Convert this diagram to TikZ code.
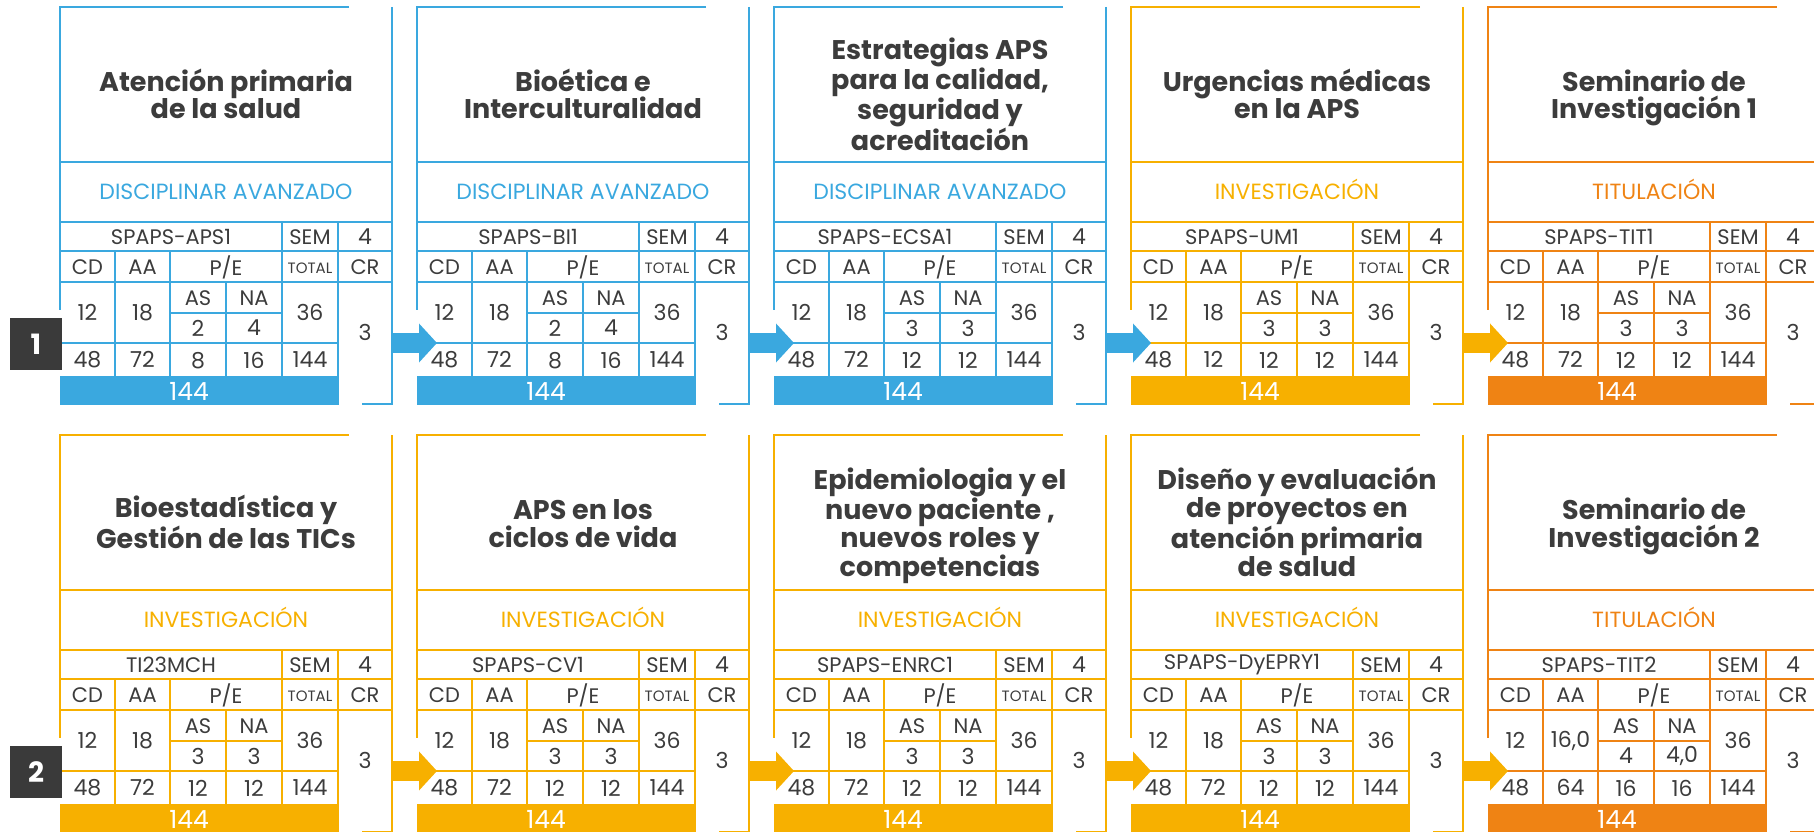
\documentclass[tikz,border=0pt]{standalone}
\usepackage{fontspec}
\setmainfont{Poppins}
\usetikzlibrary{arrows.meta}
\definecolor{azul}{HTML}{3AA8DF}
\definecolor{amarillo}{HTML}{F7B000}
\definecolor{naranja}{HTML}{EF8314}
\definecolor{texto}{HTML}{3C3C3C}
\definecolor{gris}{HTML}{3A3A3A}

% horas: AA/AS/NA/AA total/AS total/NA total
\def\horas#1/#2/#3/#4/#5/#6\relax{\def\hAA{#1}\def\hAS{#2}\def\hNA{#3}\def\tAA{#4}\def\tAS{#5}\def\tNA{#6}}

% ficha de un curso: nombre, origen, color, titulo, area, codigo, horas
\newcommand{\curso}[7]{%
\horas#7\relax
\begin{scope}[shift={#2},draw=#3]
  \draw (289,0) -- (0,0) -- (0,303);
  \draw (332,0) -- (332,397) -- (302,397);
  \draw[separa] (0,155) -- (332,155) (0,215) -- (332,215);
  \draw (0,244) -- (332,244) (0,275) -- (332,275) (110,306) -- (222,306) (0,336) -- (278,336);
  \draw (222,215) -- (222,369) (278,215) -- (278,369);
  \draw (55,244) -- (55,369) (110,244) -- (110,369) (166,275) -- (166,369);
  \fill[#3] (0,369) rectangle (279,398);
  \node[titulo] (#1-tit) at (166,91) {\rule{0pt}{23pt}#4\rule[-9pt]{0pt}{9pt}};
  \node[area,text=#3] (#1-area) at (166,192) {#5};
  \node[celda] (#1-cod) at (111,230) {#6};
  \node[celda] (#1-sem) at (250,230) {SEM};
  \node[num] (#1-nsem) at (305,230) {4};
  \node[celda] (#1-cd) at (27.5,260) {CD};
  \node[celda] (#1-aa) at (82.5,260) {AA};
  \node[celda] (#1-pe) at (166,260) {P/E};
  \node[chica] (#1-tot) at (250,261) {TOTAL};
  \node[celda] (#1-cr) at (305,260) {CR};
  \node[num] (#1-cd1) at (27.5,305.5) {12};
  \node[num] (#1-aa1) at (82.5,305.5) {\hAA};
  \node[celda] (#1-as) at (138,291) {AS};
  \node[celda] (#1-na) at (194,291) {NA};
  \node[num] (#1-as1) at (138,321) {\hAS};
  \node[num] (#1-na1) at (194,321) {\hNA};
  \node[num] (#1-tot1) at (250,305.5) {36};
  \node[num] (#1-cd2) at (27.5,352.5) {48};
  \node[num] (#1-aa2) at (82.5,352.5) {\tAA};
  \node[num] (#1-as2) at (138,353.5) {\tAS};
  \node[num] (#1-na2) at (194,353.5) {\tNA};
  \node[num] (#1-tot2) at (250,352.5) {144};
  \node[num] (#1-cr1) at (305,325) {3};
  \node[barra] (#1-suma) at (129,384) {144};
  \coordinate (#1-sal) at (332,336);
  \coordinate (#1-ent) at (20,336);
\end{scope}}

\begin{document}
\begin{tikzpicture}[x=1pt,y=-1pt,line width=2pt,
    separa/.style={line width=2.6pt},
    titulo/.style={text=texto,align=center,inner sep=0pt,font=\fontsize{27}{28}\selectfont\bfseries},
    area/.style={anchor=base,inner sep=0pt,font=\fontsize{22}{24}\selectfont},
    celda/.style={text=texto,inner sep=0pt,font=\fontsize{21}{24}\selectfont},
    num/.style={text=texto,inner sep=0pt,font=\fontsize{22}{24}\selectfont},
    chica/.style={text=texto,inner sep=0pt,font=\fontsize{15}{16}\selectfont},
    barra/.style={text=white,inner sep=0pt,font=\fontsize{25}{28}\selectfont},
    insignia/.style={fill=gris,text=white,minimum size=52pt,inner sep=0pt,font=\fontsize{28}{30}\selectfont\bfseries},
    flecha/.style={draw=#1,line width=20pt,-{Triangle[width=38pt,length=18pt]}}]
  \useasboundingbox (0,0) rectangle (1814,832);
  \clip (0,0) rectangle (1814,832);

  % semestre 1
  \curso{a1}{(60,7)}{azul}{Atención primaria\\de la salud}{DISCIPLINAR AVANZADO}{SPAPS-APS1}{18/2/4/72/8/16}
  \curso{a2}{(417,7)}{azul}{Bioética e\\Interculturalidad}{DISCIPLINAR AVANZADO}{SPAPS-BI1}{18/2/4/72/8/16}
  \curso{a3}{(774,7)}{azul}{Estrategias APS\\para la calidad,\\seguridad y\\acreditación}{DISCIPLINAR AVANZADO}{SPAPS-ECSA1}{18/3/3/72/12/12}
  \curso{a4}{(1131,7)}{amarillo}{Urgencias médicas\\en la APS}{INVESTIGACIÓN}{SPAPS-UM1}{18/3/3/12/12/12}
  \curso{a5}{(1488,7)}{naranja}{Seminario de\\Investigación 1}{TITULACIÓN}{SPAPS-TIT1}{18/3/3/72/12/12}

  % semestre 2
  \curso{b1}{(60,435)}{amarillo}{Bioestadística y\\Gestión de las TICs}{INVESTIGACIÓN}{TI23MCH}{18/3/3/72/12/12}
  \curso{b2}{(417,435)}{amarillo}{APS en los\\ciclos de vida}{INVESTIGACIÓN}{SPAPS-CV1}{18/3/3/72/12/12}
  \curso{b3}{(774,435)}{amarillo}{Epidemiologia y el\\nuevo paciente ,\\nuevos roles y\\competencias}{INVESTIGACIÓN}{SPAPS-ENRC1}{18/3/3/72/12/12}
  \curso{b4}{(1131,435)}{amarillo}{Diseño y evaluación\\de proyectos en\\atención primaria\\de salud}{INVESTIGACIÓN}{SPAPS-DyEPRY1}{18/3/3/72/12/12}
  \curso{b5}{(1488,435)}{naranja}{Seminario de\\Investigación 2}{TITULACIÓN}{SPAPS-TIT2}{16,0/4/4,0/64/16/16}

  \draw[flecha=azul] (a1-sal) -- (a2-ent);
  \draw[flecha=azul] (a2-sal) -- (a3-ent);
  \draw[flecha=azul] (a3-sal) -- (a4-ent);
  \draw[flecha=amarillo] (a4-sal) -- (a5-ent);
  \draw[flecha=amarillo] (b1-sal) -- (b2-ent);
  \draw[flecha=amarillo] (b2-sal) -- (b3-ent);
  \draw[flecha=amarillo] (b3-sal) -- (b4-ent);
  \draw[flecha=amarillo] (b4-sal) -- (b5-ent);

  \node[insignia] (s1) at (36,344) {1};
  \node[insignia] (s2) at (36,772) {2};
\end{tikzpicture}
\end{document}
